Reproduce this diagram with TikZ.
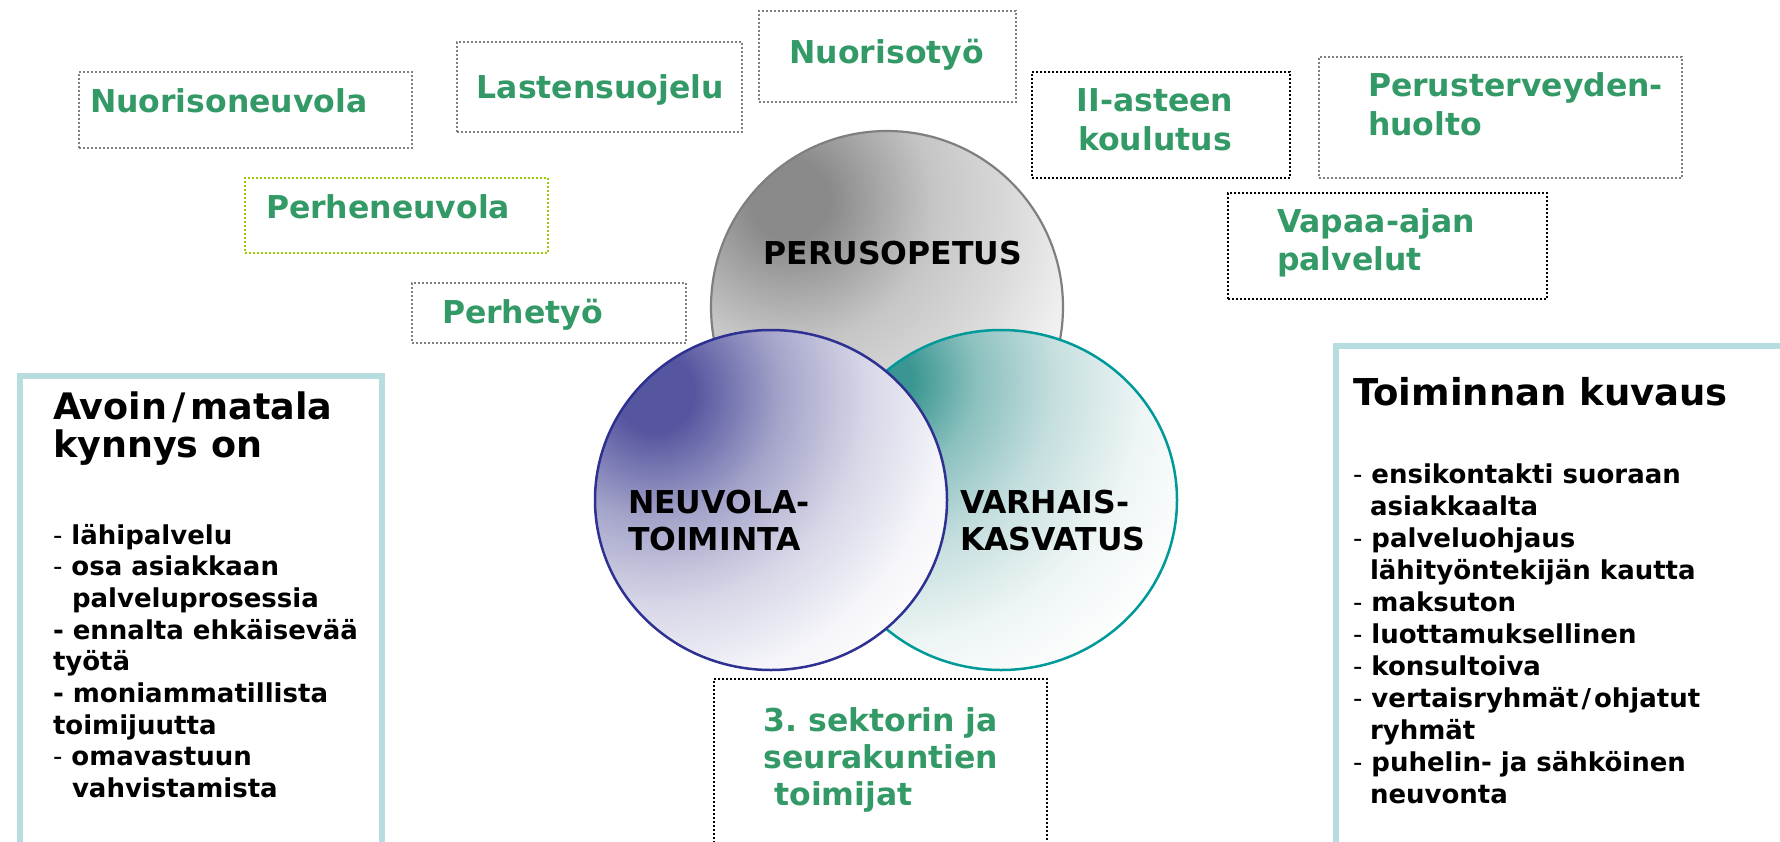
\documentclass[tikz,border=0pt]{standalone}
\usepackage{fontspec}
\setmainfont{DejaVu Sans}
\usetikzlibrary{shapes.geometric}
\frenchspacing
\definecolor{grn}{HTML}{339966}
\definecolor{lime}{HTML}{99CC00}
\definecolor{dgray}{HTML}{808080}
\definecolor{cyb}{HTML}{B7DDE0}
\definecolor{pogray}{HTML}{7F7F7F}
\definecolor{nvblue}{HTML}{2E3192}
\definecolor{vkteal}{HTML}{009999}
\definecolor{po0}{HTML}{8A8A8A}
\definecolor{po1}{HTML}{C6C6C6}
\definecolor{po2}{HTML}{DADADA}
\definecolor{po3}{HTML}{F6F6F6}
\definecolor{nv0}{HTML}{5656A0}
\definecolor{nv1}{HTML}{A4A4CA}
\definecolor{nv2}{HTML}{D6D6E7}
\definecolor{nv3}{HTML}{F5F5FA}
\definecolor{vk0}{HTML}{3A9692}
\definecolor{vk1}{HTML}{8AC0BE}
\definecolor{vk2}{HTML}{C6DFDF}
\definecolor{vk3}{HTML}{EEF5F5}
% 25bp corresponds to the radius of the shaded circle
\pgfdeclareradialshading{poshade}{\pgfpoint{0bp}{0bp}}{color(0bp)=(po0); color(2.5bp)=(po0); color(9bp)=(po1); color(14bp)=(po2); color(19.5bp)=(po3); color(22bp)=(white); color(50bp)=(white)}
\pgfdeclareradialshading{nvshade}{\pgfpoint{0bp}{0bp}}{color(0bp)=(nv0); color(2.8bp)=(nv0); color(9bp)=(nv1); color(15bp)=(nv2); color(21bp)=(nv3); color(25bp)=(white); color(50bp)=(white)}
\pgfdeclareradialshading{vkshade}{\pgfpoint{0bp}{0bp}}{color(0bp)=(vk0); color(2bp)=(vk0); color(6bp)=(vk1); color(11bp)=(vk2); color(16.5bp)=(vk3); color(22bp)=(white); color(50bp)=(white)}
\tikzset{
  lbl/.style={inner sep=0pt, outer sep=0pt, anchor=base west, align=left, text=grn,
    font=\bfseries\fontsize{31.5}{38.3}\selectfont},
  circlbl/.style={inner sep=0pt, outer sep=0pt, anchor=base west, align=left, text=black,
    font=\bfseries\fontsize{31.5}{37}\selectfont},
  titlelbl/.style={inner sep=0pt, outer sep=0pt, anchor=base west, align=left, text=black,
    font=\bfseries\fontsize{36.5}{38}\selectfont},
  listlbl/.style={inner sep=0pt, outer sep=0pt, anchor=base west, align=left, text=black,
    font=\bfseries\fontsize{26}{31.7}\selectfont},
  dotbox/.style={draw=dgray, line width=2pt, dash pattern=on 2pt off 2pt, inner sep=0pt, anchor=north west},
  limebox/.style={dotbox, draw=lime},
  blackbox/.style={dotbox, draw=black, line width=2.2pt},
  bigbox/.style={draw=cyb, line width=6pt, inner sep=0pt, anchor=north west},
}
\begin{document}
\begin{tikzpicture}[x=1pt, y=-1pt]
\useasboundingbox (0,0) rectangle (1780,841);
\clip (0,0) rectangle (1780,841);

% big side boxes
\node[bigbox, minimum width=362pt, minimum height=480pt] (leftbox) at (17,373) {};
\node[bigbox, minimum width=460pt, minimum height=510pt] (rightbox) at (1333,343) {};

% dotted label boxes
\node[dotbox, minimum width=333pt, minimum height=76pt] (bnuor) at (78,71) {};
\node[dotbox, minimum width=285pt, minimum height=90pt] (blast) at (456,41) {};
\node[dotbox, minimum width=257pt, minimum height=91pt] (bnuty) at (758,10) {};
\node[blackbox, minimum width=258pt, minimum height=106pt] (bii) at (1031,71) {};
\node[dotbox, minimum width=363pt, minimum height=121pt] (bperus) at (1318,56) {};
\node[blackbox, minimum width=319pt, minimum height=106pt] (bvapaa) at (1227,192) {};
\node[limebox, minimum width=303pt, minimum height=75pt] (bperhn) at (244,177) {};
\node[dotbox, minimum width=274pt, minimum height=60pt] (bperht) at (411,282) {};
\node[blackbox, minimum width=333pt, minimum height=180pt] (bsekt) at (713,678) {};

% green labels (multi-line nodes are anchored at the baseline of their last line)
\node[lbl] (tnuor) at (90,112.7) {Nuorisoneuvola};
\node[lbl] (tlast) at (476.7,98.3) {Lastensuojelu};
\node[lbl] (tnuty) at (789.5,63.3) {Nuorisotyö};
\node[lbl, anchor=base, align=center] (tii) at (1155,150) {II-asteen\\koulutus};
\node[lbl] (tperus) at (1368,135) {Perusterveyden-\\huolto};
\node[lbl] (tvapaa) at (1277,270.5) {Vapaa-ajan\\palvelut};
\node[lbl] (tperhn) at (266,218.3) {Perheneuvola};
\node[lbl] (tperht) at (442,323.3) {Perhetyö};
\node[lbl, font=\bfseries\fontsize{31.5}{37}\selectfont] (tsekt) at (763.5,805.7) {3. sektorin ja\\seurakuntien\\\ toimijat};

% PERUSOPETUS circle
\begin{scope}
  \clip (887,307) circle [radius=176pt];
  \shade[shading=poshade] (790,200) circle [radius=400pt];
\end{scope}
\node[circle, draw=pogray, line width=2.2pt, minimum size=352pt, inner sep=0pt] (cperus) at (887,307) {};
\node[circlbl, anchor=base] (tperusop) at (893,264) {PERUSOPETUS};

% VARHAISKASVATUS circle
\begin{scope}
  \clip (1001,500) ellipse [x radius=176pt, y radius=170pt];
  \shade[shading=vkshade] (880,380) circle [radius=400pt];
\end{scope}
\node[ellipse, draw=vkteal, line width=2.5pt, minimum width=352pt, minimum height=340pt, inner sep=0pt] (cvark) at (1001,500) {};

% NEUVOLATOIMINTA circle
\begin{scope}
  \clip (771,500) ellipse [x radius=176pt, y radius=170pt];
  \shade[shading=nvshade] (655,393) circle [radius=350pt];
\end{scope}
\node[ellipse, draw=nvblue, line width=2.5pt, minimum width=352pt, minimum height=340pt, inner sep=0pt] (cneuv) at (771,500) {};

\node[circlbl] (tneuv) at (628,550) {NEUVOLA-\\TOIMINTA};
\node[circlbl] (tvark) at (960,550) {VARHAIS-\\KASVATUS};

% left box text
\node[titlelbl] (tleft) at (53,457) {Avoin\kern5pt/\kern5pt matala\\kynnys on};
\node[listlbl] (lleft) at (53,797.6) {{\mdseries -} lähipalvelu\\
{\mdseries -} osa asiakkaan\\
\hspace*{19pt}palveluprosessia\\
- ennalta ehkäisevää\\
työtä\\
- moniammatillista\\
toimijuutta\\
{\mdseries -} omavastuun\\
\hspace*{19pt}vahvistamista};

% right box text
\node[titlelbl, font=\bfseries\fontsize{37}{40}\selectfont] (tright) at (1353,405) {Toiminnan kuvaus};
\node[listlbl, font=\bfseries\fontsize{26}{32}\selectfont] (lright) at (1353,803) {{\mdseries -} ensikontakti suoraan\\
\hspace*{17pt}asiakkaalta\\
{\mdseries -} palveluohjaus\\
\hspace*{17pt}lähityöntekijän kautta\\
{\mdseries -} maksuton\\
{\mdseries -} luottamuksellinen\\
{\mdseries -} konsultoiva\\
{\mdseries -} vertaisryhmät\kern3pt/\kern3pt ohjatut\\
\hspace*{17pt}ryhmät\\
{\mdseries -} puhelin- ja sähköinen\\
\hspace*{17pt}neuvonta};
\end{tikzpicture}
\end{document}
